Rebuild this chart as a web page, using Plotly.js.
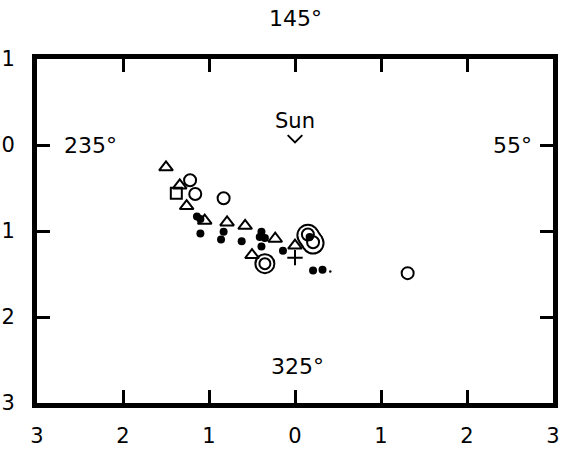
<!DOCTYPE html>
<html>
<head>
<meta charset="utf-8">
<script src="https://cdn.plot.ly/plotly-3.0.1.min.js"></script>
<style>html,body{margin:0;padding:0;background:#fff;}#chart{width:570px;height:452px;}</style>
</head>
<body>
<div id="chart"></div>
<script>
// Open triangles
var triX = [-1.50, -1.34, -1.26, -1.05, -0.79, -0.58, -0.23, -0.50, 0.00];
var triY = [0.26, 0.47, 0.71, 0.88, 0.90, 0.94, 1.09, 1.28, 1.17];
// Open circles
var circX = [-1.22, -1.16, -0.83, 1.31];
var circY = [0.41, 0.57, 0.62, 1.49];
// Open square
var sqX = [-1.38];
var sqY = [0.56];
// Filled dots
var dotX = [-1.14, -1.10, -1.10, -0.83, -0.86, -0.62, -0.39, -0.41, -0.35, -0.39, -0.14, 0.21, 0.32, 0.17];
var dotY = [0.83, 0.86, 1.03, 1.01, 1.10, 1.12, 1.01, 1.07, 1.08, 1.18, 1.23, 1.46, 1.45, 1.07];
// Tiny dot
var tinyX = [0.41];
var tinyY = [1.47];
// Cross below triangle
var crossX = [0.00];
var crossY = [1.31];
// Double circle
var dblX = [-0.35];
var dblY = [1.38];
// Pill (elongated double ring) end points and inner circles
var pillX = [0.15, 0.21];
var pillY = [1.05, 1.14];
var pillInX = [0.15, 0.21];
var pillInY = [1.04, 1.13];

// Axis tick labels
var xTickVals = [-3, -2, -1, 0, 1, 2, 3];
var xTickText = ['3', '2', '1', '0', '1', '2', '3'];
var yTickVals = [-1, 0, 1, 2, 3];
var yTickText = ['1', '0', '1', '2', '3'];

var FONT = 'DejaVu Sans, Liberation Sans, sans-serif';

var traces = [
  {x: pillX, y: pillY, mode: 'lines+markers', line: {color: '#000', width: 23}, marker: {color: '#000', size: 23, symbol: 'circle'}, hoverinfo: 'skip'},
  {x: pillX, y: pillY, mode: 'lines+markers', line: {color: '#fff', width: 19}, marker: {color: '#fff', size: 19, symbol: 'circle'}, hoverinfo: 'skip'},
  {x: pillInX, y: pillInY, mode: 'markers', marker: {symbol: 'circle-open', size: 12, color: '#000', line: {width: 2, color: '#000'}}},
  {x: dblX, y: dblY, mode: 'markers', marker: {symbol: 'circle-open', size: 19, color: '#000', line: {width: 2, color: '#000'}}},
  {x: dblX, y: dblY, mode: 'markers', marker: {symbol: 'circle-open', size: 11, color: '#000', line: {width: 2, color: '#000'}}},
  {x: triX, y: triY, mode: 'markers', marker: {symbol: 'triangle-up-open', size: 12, color: '#000', line: {width: 2, color: '#000'}}},
  {x: circX, y: circY, mode: 'markers', marker: {symbol: 'circle-open', size: 12, color: '#000', line: {width: 2, color: '#000'}}},
  {x: sqX, y: sqY, mode: 'markers', marker: {symbol: 'square-open', size: 11, color: '#000', line: {width: 2, color: '#000'}}},
  {x: dotX, y: dotY, mode: 'markers', marker: {symbol: 'circle', size: 8, color: '#000'}},
  {x: tinyX, y: tinyY, mode: 'markers', marker: {symbol: 'circle', size: 2.5, color: '#000'}},
  {x: crossX, y: crossY, mode: 'markers', marker: {symbol: 'cross-thin-open', size: 11, color: '#000', line: {width: 2, color: '#000'}}}
];

var axisCommon = {
  showgrid: false, zeroline: false, showline: true, linecolor: '#000', linewidth: 5,
  mirror: 'ticks', ticks: 'inside', ticklen: 13, tickwidth: 3, tickcolor: '#000',
  tickfont: {family: FONT, size: 21, color: '#000'}, fixedrange: true
};

var layout = {
  width: 570, height: 452,
  margin: {l: 37, r: 17, t: 59, b: 49, pad: 0},
  paper_bgcolor: '#fff', plot_bgcolor: '#fff',
  showlegend: false,
  xaxis: Object.assign({}, axisCommon, {range: [-3, 3], tickmode: 'array', tickvals: xTickVals, ticktext: xTickText, ticklabelstandoff: 10}),
  yaxis: Object.assign({}, axisCommon, {range: [3, -1], tickmode: 'array', tickvals: yTickVals, ticktext: yTickText, ticklabelstandoff: 13}),
  shapes: [
    {type: 'path', xref: 'x', yref: 'y', path: 'M -0.085,-0.115 L 0,-0.03 L 0.085,-0.115', line: {color: '#000', width: 2}}
  ],
  annotations: [
    {x: 0.5, y: 1.119, xref: 'paper', yref: 'paper', xanchor: 'center', yanchor: 'middle', text: '145°', showarrow: false, font: {family: FONT, size: 22, color: '#000'}},
    {x: -2.38, y: 0, xref: 'x', yref: 'y', text: '235°', showarrow: false, font: {family: FONT, size: 22, color: '#000'}},
    {x: 2.53, y: 0, xref: 'x', yref: 'y', text: '55°', showarrow: false, font: {family: FONT, size: 22, color: '#000'}},
    {x: 0.03, y: 2.58, xref: 'x', yref: 'y', text: '325°', showarrow: false, font: {family: FONT, size: 22, color: '#000'}},
    {x: 0, y: -0.28, xref: 'x', yref: 'y', text: 'Sun', showarrow: false, font: {family: FONT, size: 21, color: '#000'}}
  ]
};

Plotly.newPlot('chart', traces, layout, {staticPlot: true, displayModeBar: false});
</script>
</body>
</html>
